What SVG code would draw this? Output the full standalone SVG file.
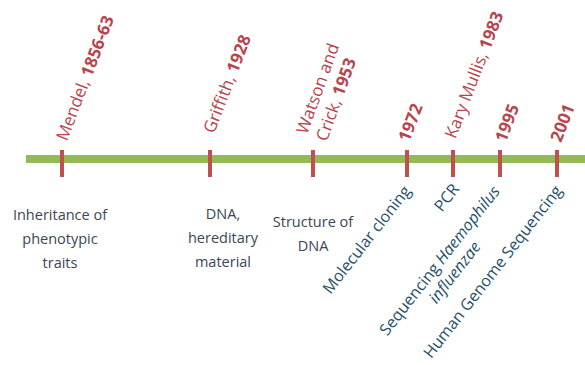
<svg xmlns="http://www.w3.org/2000/svg" width="585" height="365" viewBox="0 0 585 365">
<style>
.top{font-family:"Open Sans","Liberation Sans",sans-serif;font-size:17px;fill:#b8444e;text-anchor:middle}
.b{font-weight:bold}
.lbl{font-family:"Open Sans","Liberation Sans",sans-serif;font-size:14.5px;fill:#3a4654;text-anchor:middle}
.rot{font-family:"Open Sans","Liberation Sans",sans-serif;font-size:16px;fill:#25506a;text-anchor:middle}
.tick{stroke:#c0504d;stroke-width:4}
</style>
<rect width="585" height="365" fill="#ffffff"/>
<g id="connectors">
<line x1="26" y1="159" x2="585" y2="159" stroke="#94b957" stroke-width="8"/>
</g>
<g id="mendel">
<line class="tick" x1="62" y1="150" x2="62" y2="177"/>
<text class="top" transform="translate(90.6,80) rotate(-69)">Mendel, <tspan class="b">1856-63</tspan></text>
<text class="lbl" x="60" y="220">Inheritance of<tspan x="60" y="244">phenotypic</tspan><tspan x="60" y="268">traits</tspan></text>
</g>
<g id="griffith">
<line class="tick" x1="210" y1="150" x2="210" y2="177"/>
<text class="top" transform="translate(232.6,86) rotate(-69)">Griffith, <tspan class="b">1928</tspan></text>
<text class="lbl" x="223" y="219">DNA,<tspan x="223" y="243">hereditary</tspan><tspan x="223" y="267">material</tspan></text>
</g>
<g id="watson">
<line class="tick" x1="313" y1="150" x2="313" y2="177"/>
<text class="top" style="text-anchor:start" transform="translate(307,135) rotate(-70)">Watson and<tspan x="0" y="21">Crick, <tspan class="b">1953</tspan></tspan></text>
<text class="lbl" x="313" y="227">Structure of<tspan x="313" y="251">DNA</tspan></text>
</g>
<g id="cloning">
<line class="tick" x1="407" y1="150" x2="407" y2="177"/>
<text class="top b" transform="translate(416,124.7) rotate(-69)">1972</text>
<text class="rot" transform="translate(371,243) rotate(-52)">Molecular cloning</text>
</g>
<g id="pcr">
<line class="tick" x1="453" y1="150" x2="453" y2="177"/>
<text class="top" transform="translate(479.6,77) rotate(-69)">Kary Mullis, <tspan class="b">1983</tspan></text>
<text class="rot" transform="translate(451,201) rotate(-52)">PCR</text>
</g>
<g id="haemophilus">
<line class="tick" x1="500" y1="150" x2="500" y2="177"/>
<text class="top b" transform="translate(512.6,125) rotate(-69)">1995</text>
<text class="rot" transform="translate(444,264) rotate(-52)">Sequencing <tspan font-style="italic">Haemophilus</tspan><tspan x="0" y="19" font-style="italic">influenzae</tspan></text>
</g>
<g id="genome">
<line class="tick" x1="557" y1="150" x2="557" y2="177"/>
<text class="top b" transform="translate(568,125) rotate(-69)">2001</text>
<text class="rot" transform="translate(497,275) rotate(-52)">Human Genome Sequencing</text>
</g>
</svg>
